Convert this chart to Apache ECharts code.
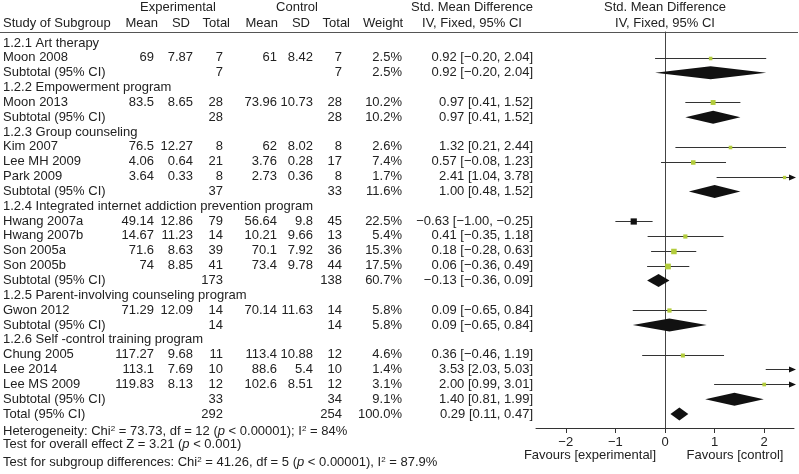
<!DOCTYPE html>
<html>
<head>
<meta charset="utf-8">
<script src="https://cdn.jsdelivr.net/npm/echarts@6/dist/echarts.min.js"></script>
<style>
html, body { margin: 0; padding: 0; background: #fff; }
#forest-chart { width: 799px; height: 474px; }
</style>
</head>
<body>
<div id="forest-chart"></div>
<script>
// rows of the table, top to bottom; g = subgroup heading, s = study, t = subtotal / total
var labels = ['1.2.1 Art therapy', 'Moon 2008', 'Subtotal (95% CI)',
  '1.2.2 Empowerment program', 'Moon 2013', 'Subtotal (95% CI)',
  '1.2.3 Group counseling', 'Kim 2007', 'Lee MH 2009', 'Park 2009', 'Subtotal (95% CI)',
  '1.2.4 Integrated internet addiction prevention program', 'Hwang 2007a', 'Hwang 2007b', 'Son 2005a', 'Son 2005b', 'Subtotal (95% CI)',
  '1.2.5 Parent-involving counseling program', 'Gwon 2012', 'Subtotal (95% CI)',
  '1.2.6 Self -control training program', 'Chung 2005', 'Lee 2014', 'Lee MS 2009', 'Subtotal (95% CI)',
  'Total (95% CI)'];
var kinds = ['g','s','t', 'g','s','t', 'g','s','s','s','t', 'g','s','s','s','s','t', 'g','s','t', 'g','s','s','s','t', 't'];

var expMean = [null,69,null, null,83.5,null, null,76.5,4.06,3.64,null, null,49.14,14.67,71.6,74,null, null,71.29,null, null,117.27,113.1,119.83,null, null];
var expSD   = [null,7.87,null, null,8.65,null, null,12.27,0.64,0.33,null, null,12.86,11.23,8.63,8.85,null, null,12.09,null, null,9.68,7.69,8.13,null, null];
var expN    = [null,7,7, null,28,28, null,8,21,8,37, null,79,14,39,41,173, null,14,14, null,11,10,12,33, 292];
var ctlMean = [null,61,null, null,73.96,null, null,62,3.76,2.73,null, null,56.64,10.21,70.1,73.4,null, null,70.14,null, null,113.4,88.6,102.6,null, null];
var ctlSD   = [null,8.42,null, null,10.73,null, null,8.02,0.28,0.36,null, null,9.8,9.66,7.92,9.78,null, null,11.63,null, null,10.88,5.4,8.51,null, null];
var ctlN    = [null,7,7, null,28,28, null,8,17,8,33, null,45,13,36,44,138, null,14,14, null,12,10,12,34, 254];
var weight  = [null,2.5,2.5, null,10.2,10.2, null,2.6,7.4,1.7,11.6, null,22.5,5.4,15.3,17.5,60.7, null,5.8,5.8, null,4.6,1.4,3.1,9.1, 100.0];
var smd     = [null,0.92,0.92, null,0.97,0.97, null,1.32,0.57,2.41,1.00, null,-0.63,0.41,0.18,0.06,-0.13, null,0.09,0.09, null,0.36,3.53,2.00,1.40, 0.29];
var ciLow   = [null,-0.20,-0.20, null,0.41,0.41, null,0.21,-0.08,1.04,0.48, null,-1.00,-0.35,-0.28,-0.36,-0.36, null,-0.65,-0.65, null,-0.46,2.03,0.99,0.81, 0.11];
var ciHigh  = [null,2.04,2.04, null,1.52,1.52, null,2.44,1.23,3.78,1.52, null,-0.25,1.18,0.63,0.49,0.09, null,0.84,0.84, null,1.19,5.03,3.01,1.99, 0.47];

var xTicks = [-2, -1, 0, 1, 2];
var xMin = -2.6, xMax = 2.6;

var FONT = '"Liberation Sans", Arial, sans-serif';
var INK = '#222';
var rowTop = -0.74, rowBottom = 25.945;

function minus(s) { return String(s).replace(/-/g, '\u2212'); }
function ci(i) {
  return minus(smd[i].toFixed(2)) + ' [' + minus(ciLow[i].toFixed(2)) + ', ' + minus(ciHigh[i].toFixed(2)) + ']';
}

var tableRows = [], studyRows = [], diamondRows = [];
for (var i = 0; i < labels.length; i++) {
  tableRows.push([0, i]);
  if (kinds[i] === 's') studyRows.push([smd[i], i, ciLow[i], ciHigh[i], weight[i]]);
  if (kinds[i] === 't') diamondRows.push([smd[i], i, ciLow[i], ciHigh[i]]);
}

// table text, one group per row
function renderTable(params, api) {
  var r = api.value(1);
  var y = api.coord([0, r])[1];
  var kids = [];
  function put(txt, x, align) {
    if (txt === null || txt === undefined) return;
    kids.push({ type: 'text', style: { text: String(txt), x: api.coord([x, r])[0], y: y,
      align: align, verticalAlign: 'middle', fontSize: 13, fontFamily: FONT, fill: INK } });
  }
  put(labels[r], 3, 'left');
  if (kinds[r] !== 'g') {
    put(expMean[r], 154, 'right');
    put(expSD[r], 193, 'right');
    put(expN[r], 223, 'right');
    put(ctlMean[r], 277, 'right');
    put(ctlSD[r], 313, 'right');
    put(ctlN[r], 342, 'right');
    put(weight[r].toFixed(1) + '%', 402, 'right');
    put(ci(r), 533, 'right');
  }
  return { type: 'group', children: kids };
}

// CI whiskers with squares, arrows where the interval runs off the scale
function renderStudy(params, api) {
  var est = api.value(0), r = api.value(1), lo = api.value(2), hi = api.value(3), w = api.value(4);
  var y = Math.round(api.coord([0, r])[1]) + 0.5;
  var x0 = api.coord([Math.max(lo, xMin), r])[0];
  var x1 = api.coord([Math.min(hi, xMax), r])[0];
  var kids = [];
  var lineEnd = x1, lineStart = x0;
  if (hi > xMax) {
    var tip = x1 + 2;
    lineEnd = tip - 6;
    kids.push({ type: 'polygon', shape: { points: [[tip, y], [tip - 7, y - 3], [tip - 7, y + 3]] }, style: { fill: '#111' } });
  }
  if (lo < xMin) {
    var tipL = x0 - 2;
    lineStart = tipL + 6;
    kids.push({ type: 'polygon', shape: { points: [[tipL, y], [tipL + 7, y - 3], [tipL + 7, y + 3]] }, style: { fill: '#111' } });
  }
  kids.unshift({ type: 'line', shape: { x1: lineStart, y1: y, x2: lineEnd, y2: y }, style: { stroke: '#333', lineWidth: 1 } });
  if (est >= xMin && est <= xMax) {
    var s = 2.2 + Math.sqrt(w) * 0.85;
    var cx = api.coord([est, r])[0];
    kids.push({ type: 'rect', shape: { x: cx - s / 2, y: y - s / 2, width: s, height: s },
      style: { fill: est < 0 ? '#111' : '#b3cc3c' } });
  }
  return { type: 'group', children: kids };
}

function renderDiamond(params, api) {
  var est = api.value(0), r = api.value(1), lo = api.value(2), hi = api.value(3);
  var c = api.coord([est, r]);
  var xl = api.coord([lo, r])[0], xr = api.coord([hi, r])[0];
  var h = 6.5;
  return { type: 'polygon', shape: { points: [[xl, c[1]], [c[0], c[1] - h], [xr, c[1]], [c[0], c[1] + h]] },
    style: { fill: '#111' } };
}

var chart = echarts.init(document.getElementById('forest-chart'));

var supRich = {
  sup: { fontSize: 8, fontFamily: FONT, verticalAlign: 'top', fill: INK },
  it: { fontSize: 13, fontFamily: FONT, fontStyle: 'italic', fill: INK }
};
function txt(t, x, y, align, rich) {
  return { type: 'text', x: x, y: y, silent: true,
    style: { text: t, align: align || 'left', verticalAlign: 'middle', fontSize: 13, fontFamily: FONT, fill: INK, rich: rich } };
}

chart.setOption({
  animation: false,
  grid: [
    { left: 536, top: 32, width: 258, height: 396 },
    { left: 0, top: 32, width: 799, height: 396 }
  ],
  xAxis: [
    {
      type: 'value', gridIndex: 0, min: xMin, max: xMax, position: 'bottom',
      axisLine: { onZero: false, lineStyle: { color: '#333', width: 1 } },
      axisTick: { show: true, length: 5, customValues: xTicks, lineStyle: { color: '#333' } },
      axisLabel: { customValues: xTicks, margin: 8, fontSize: 13, fontFamily: FONT, color: INK,
        formatter: function (v) { return minus(v); } },
      splitLine: { show: false }
    },
    { type: 'value', gridIndex: 1, min: 0, max: 799, show: false }
  ],
  yAxis: [
    {
      type: 'value', gridIndex: 0, min: rowTop, max: rowBottom, inverse: true,
      axisLine: { show: true, onZero: true, lineStyle: { color: '#444', width: 1 } },
      axisTick: { show: false }, axisLabel: { show: false }, splitLine: { show: false }
    },
    { type: 'value', gridIndex: 1, min: rowTop, max: rowBottom, inverse: true, show: false }
  ],
  series: [
    { type: 'custom', xAxisIndex: 1, yAxisIndex: 1, data: tableRows, renderItem: renderTable, silent: true },
    { type: 'custom', xAxisIndex: 0, yAxisIndex: 0, data: studyRows, renderItem: renderStudy,
      encode: { x: [0, 2, 3], y: 1 }, silent: true },
    { type: 'custom', xAxisIndex: 0, yAxisIndex: 0, data: diamondRows, renderItem: renderDiamond,
      encode: { x: [0, 2, 3], y: 1 }, silent: true }
  ],
  graphic: [
    txt('Experimental', 178, 7, 'center'),
    txt('Control', 297, 7, 'center'),
    txt('Std. Mean Difference', 472, 7, 'center'),
    txt('Std. Mean Difference', 665, 7, 'center'),
    txt('Study of Subgroup', 3, 23),
    txt('Mean', 158, 23, 'right'),
    txt('SD', 190, 23, 'right'),
    txt('Total', 230, 23, 'right'),
    txt('Mean', 278, 23, 'right'),
    txt('SD', 310, 23, 'right'),
    txt('Total', 350, 23, 'right'),
    txt('Weight', 363, 23),
    txt('IV, Fixed, 95% CI', 472, 23, 'center'),
    txt('IV, Fixed, 95% CI', 665, 23, 'center'),
    { type: 'line', shape: { x1: 0, y1: 32.5, x2: 798, y2: 32.5 }, style: { stroke: '#555', lineWidth: 1 } },
    txt('Favours [experimental]', 590, 455, 'center'),
    txt('Favours [control]', 735, 455, 'center'),
    txt('Heterogeneity: Chi{sup|2} = 73.73, df = 12 ({it|p} < 0.00001); I{sup|2} = 84%', 3, 431, 'left', supRich),
    txt('Test for overall effect Z = 3.21 ({it|p} < 0.001)', 3, 444, 'left', supRich),
    txt('Test for subgroup differences: Chi{sup|2} = 41.26, df = 5 ({it|p} < 0.00001), I{sup|2} = 87.9%', 3, 462, 'left', supRich)
  ]
});
</script>
</body>
</html>
